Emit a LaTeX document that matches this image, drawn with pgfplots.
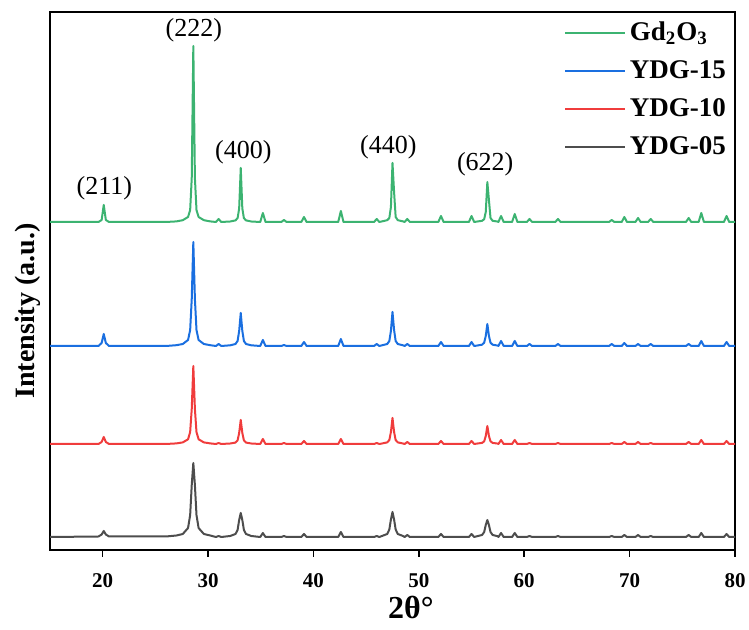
\documentclass[border=0pt]{standalone}
\usepackage{fontspec}
\setmainfont{Liberation Serif}
\usepackage{pgfplots}
\usepackage{pgfplotstable}
\pgfplotsset{compat=1.18}

\definecolor{cgreen}{RGB}{60,179,113}
\definecolor{cblue}{RGB}{26,111,224}
\definecolor{cred}{RGB}{240,60,60}
\definecolor{cgray}{RGB}{77,77,77}

% peak heights above each pattern's own baseline (x = 2theta)
\pgfplotstableread{
x     g    b    r    k
15    0    0    0    0
19.6  0    0    0    0.5
19.9  2    3    2    2.5
20.1  17   12   7    6
20.3  2    3    2    2.5
20.6  0    0    0    0.5
26.0  0    0    0    0.5
27.0  0.6  0.8  0.6  1.5
27.6  1.8  2    1.6  3
28.1  5    6    4.7  9
28.3  12   16   12   22
28.45 44   47   35   52
28.6  176  104  78   74
28.75 44   47   35   52
28.9  12   16   12   22
29.1  5    6    4.7  9
29.6  1.8  2    1.6  3
30.2  0.6  0.8  0.6  1.5
30.75 0    0    0    0
31.0  3    2    1    1
31.25 0    0    0    0
32.1  0.5  0.7  0.5  1
32.6  1.6  2    1.4  3
32.8  3.8  5    3.6  7
32.95 13.5 15   11   17
33.1  54   33   24   24
33.25 13.5 15   11   17
33.4  3.8  5    3.6  7
33.6  1.6  2    1.4  3
34.1  0.5  0.7  0.5  1
34.95 0    0    0    0
35.2  9    6    5    4
35.45 0    0    0    0
36.95 0    0    0    0
37.2  2    1    1    1
37.45 0    0    0    0
38.85 0    0    0    0
39.1  5    4    3    3
39.35 0    0    0    0
42.35 0    0    0    0
42.6  11   7    5    5
42.85 0    0    0    0
45.75 0    0    0    0
46.0  3    2    1    1
46.25 0    0    0    0
46.5  0.6  0.7  0.5  1
47.0  1.8  2    1.6  3
47.2  4    5    4    7.5
47.35 15   15   12   17.5
47.5  59   34   26   25
47.65 30   16   12   17.5
47.8  5    5    4    7.5
48.0  1.8  2    1.6  3
48.5  0.6  0.7  0.5  1
48.65 0    0    0    0
48.9  3    2    2    2
49.15 0    0    0    0
51.85 0    0    0    0
52.1  6    4    3    3
52.35 0    0    0    0
54.75 0    0    0    0
55.0  6    4    3    3
55.25 0    0    0    0
55.5  0.4  0.4  0.4  0.7
56.0  1.2  1.3  1.1  2
56.2  2.8  3.3  2.7  5
56.35 10   10   8    12
56.5  40   22   18   17
56.65 22   10   8    12
56.8  4    3.3  2.7  5
57.0  1.2  1.3  1.1  2
57.5  0.4  0.4  0.4  0.7
57.55 0    0    0    0
57.8  6    5    4    4
58.05 0    0    0    0
58.85 0    0    0    0
59.1  8    5    4    4
59.35 0    0    0    0
60.25 0    0    0    0
60.5  3    2    1    1
60.75 0    0    0    0
62.95 0    0    0    0
63.2  3    2    1    1
63.45 0    0    0    0
68.05 0    0    0    0
68.3  2    2    1    1
68.55 0    0    0    0
69.25 0    0    0    0
69.5  5    3    2    2
69.75 0    0    0    0
70.55 0    0    0    0
70.8  4    2    2    2
71.05 0    0    0    0
71.75 0    0    0    0
72.0  3    2    1    1
72.25 0    0    0    0
75.35 0    0    0    0
75.6  4    2    2    2
75.85 0    0    0    0
76.55 0    0    0    0
76.8  9    5    4    4
77.05 0    0    0    0
78.95 0    0    0    0
79.2  6    4    3    3
79.45 0    0    0    0
80    0    0    0    0
}\xrd

\begin{document}
\begin{tikzpicture}
\begin{axis}[
    name=ax,
    scale only axis,
    width=342.5pt, height=269pt,
    xmin=15, xmax=80, ymin=0, ymax=538,
    xtick={20,30,...,80},
    ytick=\empty,
    axis line style={line width=1pt},
    tick style={black, line width=0.8pt},
    xtick pos=bottom,
    tick align=outside,
    major tick length=3.5pt,
    xticklabel style={font=\fontsize{10.5}{12}\selectfont\bfseries, yshift=-4.5pt},
    /pgf/number format/assume math mode=true,
    xlabel={\bfseries 2θ°},
    xlabel style={font=\fontsize{16}{18}\selectfont, at={(axis description cs:0.527,-0.106)}, anchor=center},
    ylabel={\bfseries Intensity (a.u.)},
    ylabel style={font=\fontsize{14}{16}\selectfont, at={(axis description cs:-0.033,0.444)}, anchor=center},
    legend style={draw=none, fill=none, at={(rel axis cs:0.993,0.99)}, anchor=north east,
        font=\fontsize{13.5}{15}\selectfont\bfseries, row sep=4.5pt, inner sep=0pt},
    legend cell align=left,
    legend image code/.code={\draw[#1, line width=1pt] (0cm,0cm) -- (1.05cm,0cm);},
    every axis plot/.append style={line width=1pt, line join=round},
]
\addplot[cgreen] table[x=x, y expr=\thisrow{g}+328] {\xrd};
\addlegendentry{Gd\textsubscript{2}O\textsubscript{3}}
\addplot[cblue] table[x=x, y expr=\thisrow{b}+204] {\xrd};
\addlegendentry{YDG-15}
\addplot[cred] table[x=x, y expr=\thisrow{r}+106] {\xrd};
\addlegendentry{YDG-10}
\addplot[cgray] table[x=x, y expr=\thisrow{k}+13] {\xrd};
\addlegendentry{YDG-05}

\begin{scope}[every node/.style={anchor=south, inner sep=0pt, font=\fontsize{13}{15}\selectfont}]
\node at (axis cs:20.15,350) {(211)};
\node at (axis cs:28.65,508) {(222)};
\node at (axis cs:33.35,386) {(400)};
\node at (axis cs:47.1,391) {(440)};
\node at (axis cs:56.3,374) {(622)};
\end{scope}
\end{axis}
\pgfresetboundingbox
\useasboundingbox (ax.south west) ++(-25pt,-40pt) rectangle ++(374.5pt,315pt);
\end{tikzpicture}
\end{document}
